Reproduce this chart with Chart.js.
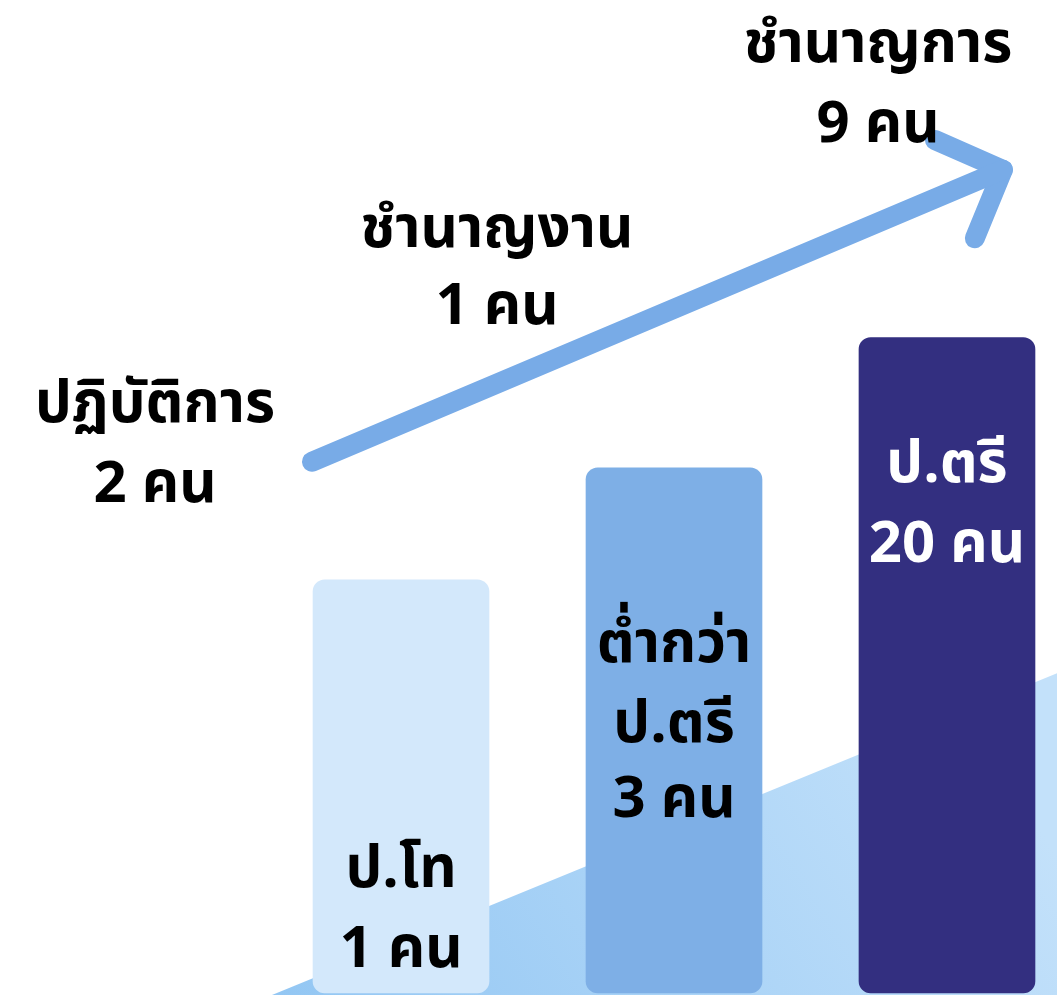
<!DOCTYPE html>
<html>
<head>
<meta charset="utf-8">
<title>ระดับตำแหน่งและวุฒิการศึกษา</title>
<script src="https://cdn.jsdelivr.net/npm/chart.js"></script>
<style>
  html, body { margin: 0; padding: 0; background: #ffffff; overflow: hidden; }
  #wrap { position: relative; width: 1057px; height: 995px; }
</style>
</head>
<body>
<div id="wrap"><canvas id="chart"></canvas></div>
<script>
// education groups -> the three bars
const eduNames = [['ป.โท'], ['ต่ำกว่า', 'ป.ตรี'], ['ป.ตรี']];
const eduCounts = [1, 3, 20];
const eduSlot = [1, 2, 3];
// bars are drawn as rising steps, not to scale with the counts
const eduStep = [41.6, 52.9, 66.0];

// position levels -> written along the arrow
const rankNames = ['ปฏิบัติการ', 'ชำนาญงาน', 'ชำนาญการ'];
const rankCounts = [2, 1, 9];

// arrow shaft and head, in chart units
const arrowX = [0.674, 3.205];
const arrowY = [53.5, 82.9];
const headX = [2.956, 3.205, 3.102];
const headY = [85.9, 82.9, 76.0];

// pale wedge behind the bars
const wedgeX = [0.483, 3.403];
const wedgeY = [-0.7, 32.2];

const FONT = "'Noto Sans Thai', 'Noto Sans', 'DejaVu Sans', sans-serif";
const barColors = ['#d3e8fb', '#7eafe6', '#332f80'];
const barText = ['#000000', '#000000', '#ffffff'];
// line centres in pixels for the labels
const barLabelY = [[875, 955], [650, 730, 805], [470, 550]];
const rankPos = [[155, 410, 490], [497, 235, 312], [878, 50, 130]];
const SIZE = 58;

const toXY = (xs, ys) => xs.map((x, i) => ({ x: x, y: ys[i] }));

const labelPlugin = {
    id: 'labels',
    afterDatasetsDraw(chart) {
        const ctx = chart.ctx;
        const xs = chart.scales.x;
        ctx.save();
        ctx.textAlign = 'center';
        ctx.textBaseline = 'middle';
        ctx.font = `bold ${SIZE}px ${FONT}`;

        // bar captions
        eduNames.forEach((lines, i) => {
            const cx = xs.getPixelForValue(eduSlot[i]);
            const all = lines.concat([`${eduCounts[i]} คน`]);
            ctx.fillStyle = barText[i];
            all.forEach((t, j) => ctx.fillText(t, cx, barLabelY[i][j]));
        });

        // rank captions
        ctx.fillStyle = '#000000';
        rankNames.forEach((name, i) => {
            const p = rankPos[i];
            ctx.fillText(name, p[0], p[1]);
            ctx.fillText(`${rankCounts[i]} คน`, p[0], p[2]);
        });
        ctx.restore();
    }
};

new Chart(document.getElementById('chart'), {
    type: 'bar',
    data: {
        datasets: [
            {
                type: 'bar',
                data: toXY(eduSlot, eduStep),
                backgroundColor: barColors,
                borderWidth: 0,
                borderRadius: 12,
                borderSkipped: false,
                barThickness: 176,
                order: 2
            },
            {
                type: 'line',
                data: toXY(wedgeX, wedgeY),
                borderWidth: 0,
                pointRadius: 0,
                fill: 'start',
                backgroundColor(c) {
                    const a = c.chart.chartArea;
                    if (!a) return '#b0d6f7';
                    const g = c.chart.ctx.createLinearGradient(260, 995, 900, 600);
                    g.addColorStop(0, '#92c6f3');
                    g.addColorStop(1, '#c3e1fa');
                    return g;
                },
                order: 3
            },
            {
                type: 'line',
                data: toXY(arrowX, arrowY),
                borderColor: '#78abe7',
                borderWidth: 20,
                borderCapStyle: 'round',
                pointRadius: 0,
                fill: false,
                order: 1
            },
            {
                type: 'line',
                data: toXY(headX, headY),
                borderColor: '#78abe7',
                borderWidth: 20,
                borderCapStyle: 'round',
                borderJoinStyle: 'round',
                pointRadius: 0,
                fill: false,
                order: 1
            }
        ]
    },
    options: {
        responsive: true,
        maintainAspectRatio: false,
        animation: false,
        layout: { padding: 0 },
        scales: {
            x: { type: 'linear', offset: false, min: -0.469, max: 3.403, display: false },
            y: { min: -0.2, max: 100, display: false }
        },
        plugins: { legend: { display: false }, tooltip: { enabled: false } }
    },
    plugins: [labelPlugin]
});
</script>
</body>
</html>
